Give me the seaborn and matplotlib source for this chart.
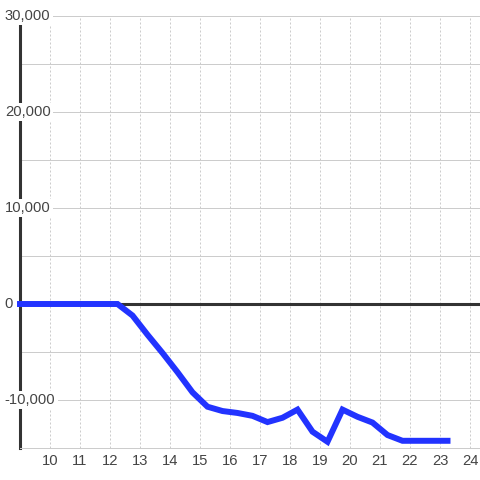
import matplotlib
matplotlib.use("Agg")
import matplotlib.pyplot as plt
import seaborn as sns

# hour of day vs value
hours = [9.0, 12.25, 12.75, 13.25, 13.75, 14.25, 14.75, 15.25, 15.75, 16.25,
         16.75, 17.25, 17.75, 18.25, 18.75, 19.25, 19.75, 20.25, 20.75,
         21.25, 21.75, 22.25, 22.75, 23.25]
values = [0, 0, -1200, -3200, -5100, -7100, -9200, -10700, -11150, -11350,
          -11650, -12300, -11850, -11000, -13300, -14350, -11000, -11750,
          -12350, -13650, -14250, -14250, -14250, -14250]

x_ticks = list(range(10, 25))
y_grid = list(range(-15000, 30001, 5000))
y_labels = [-10000, 0, 10000, 20000, 30000]

sns.set_style("white")
plt.rcParams['font.family'] = ['Liberation Sans', 'DejaVu Sans']

fig = plt.figure(figsize=(4.8, 4.8), dpi=100)
ax = fig.add_axes([20 / 480, 32 / 480, 460 / 480, 432 / 480])

sns.lineplot(x=hours, y=values, ax=ax, color='#2233ff', linewidth=4.3,
             solid_capstyle='projecting', solid_joinstyle='miter',
             clip_on=False, zorder=6)

ax.set_xlim(9, 24 + 1 / 3)
ax.set_ylim(-15000, 30000)

ax.set_xticks(x_ticks)
ax.set_xticklabels([str(t) for t in x_ticks])
ax.set_yticks(y_grid)
ax.set_yticklabels([])
ax.tick_params(axis='both', length=0)
ax.tick_params(axis='x', pad=4.5, labelsize=10.6, labelcolor='#444444')

ax.set_axisbelow(True)
ax.grid(axis='y', color='#cccccc', linewidth=0.72, linestyle='-')
ax.grid(axis='x', color='#cccccc', linewidth=0.72, linestyle=(0, (2, 2)))

for side in ['top', 'bottom']:
    ax.spines[side].set_color('#cccccc')
    ax.spines[side].set_linewidth(0.72)
ax.spines['right'].set_visible(False)
ax.spines['left'].set_color('#333333')
ax.spines['left'].set_linewidth(2.2)

ax.axhline(0, color='#333333', linewidth=2.2, zorder=4)

for v in y_labels:
    ax.text(-0.033, v, f'{v:,}', transform=ax.get_yaxis_transform(),
            ha='left', va='center', fontsize=10.6, color='#444444',
            zorder=5, clip_on=False,
            bbox=dict(boxstyle='square,pad=0.15', fc='white', ec='none'))

fig.savefig('out.png', dpi=100)
